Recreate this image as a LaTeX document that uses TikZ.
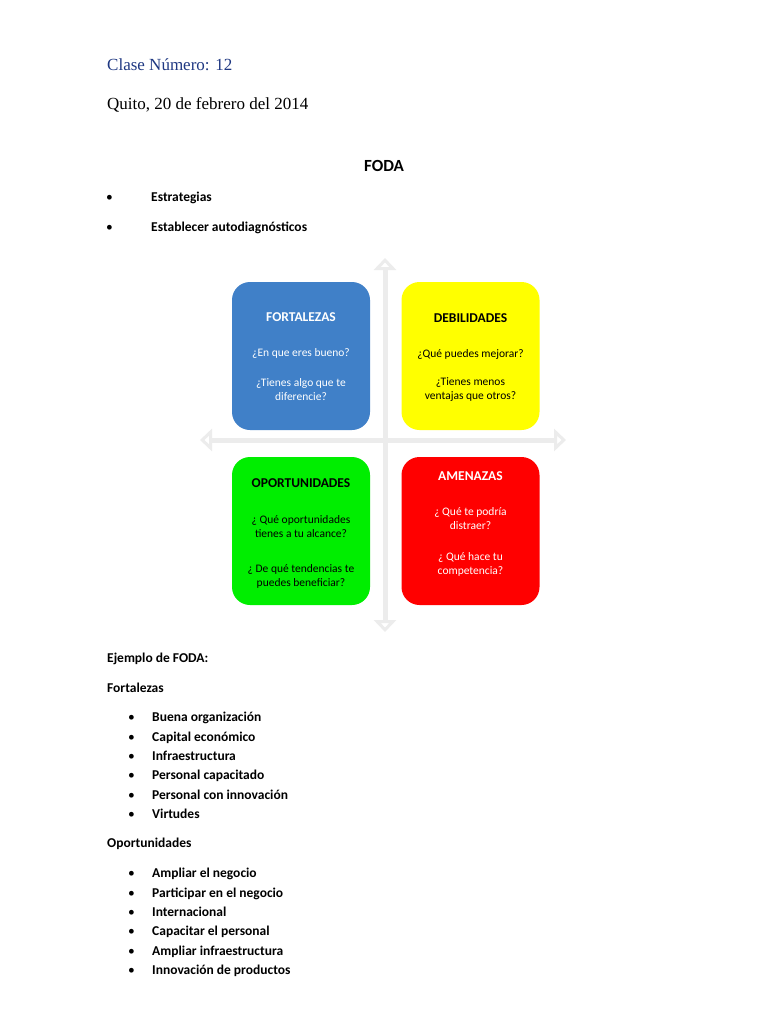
\documentclass[tikz,border=0pt]{standalone}
\usepackage{fontspec}
\setmainfont{Carlito}
\newfontfamily\serif{Liberation Serif}
\usetikzlibrary{arrows.meta}
\definecolor{hdblue}{RGB}{31,56,130}
\definecolor{bxblue}{RGB}{64,128,200}
\definecolor{bxyel}{RGB}{255,255,0}
\definecolor{bxgrn}{RGB}{0,238,0}
\definecolor{bxred}{RGB}{255,0,0}
\definecolor{arrgray}{RGB}{236,236,236}
\begin{document}
\begin{tikzpicture}[x=1pt,y=-1pt,
  body/.style={anchor=base west,inner sep=0pt,font=\fontsize{13.5}{16}\selectfont},
  bodyb/.style={body,font=\fontsize{13.5}{16}\selectfont\bfseries},
  quad/.style={rounded corners=18pt,minimum width=138pt,minimum height=148pt,inner sep=0pt},
  qtxt/.style={align=center,font=\fontsize{11.5}{14}\selectfont,inner sep=0pt},
  qtit/.style={font=\fontsize{13.5}{16}\selectfont\bfseries,inner sep=0pt},
  bigarr/.style={draw=arrgray,line width=5pt,{Triangle[open,length=12pt,width=22pt,line width=4pt]}-{Triangle[open,length=12pt,width=22pt,line width=4pt]}}]
\useasboundingbox[fill=white] (0,0) rectangle (768,1024);
\node[body,font=\serif\fontsize{17}{20}\selectfont,text=hdblue] (clase) at (107,71) {Clase Número: 12};
\node[body,font=\serif\fontsize{17}{20}\selectfont] (quito) at (107,110) {Quito, 20 de febrero del 2014};
\node[anchor=base,inner sep=0pt,font=\fontsize{17}{20}\selectfont\bfseries] (foda) at (384,172) {FODA};
\node[body] (b1) at (106,202) {•};
\node[bodyb] (e1) at (151,202) {Estrategias};
\node[body] (b2) at (106,232) {•};
\node[bodyb] (e2) at (151,232) {Establecer autodiagnósticos};
% arrows
\coordinate (vt) at (385,258); \coordinate (vb) at (385,632);
\coordinate (hl) at (200,440); \coordinate (hr) at (566,440);
\draw[bigarr] (vt) -- (vb);
\draw[bigarr] (hl) -- (hr);
% quadrants
\node[quad,fill=bxblue] (fo) at (301,356) {};
\node[quad,fill=bxyel] (de) at (470.5,356) {};
\node[quad,fill=bxgrn] (op) at (301,531) {};
\node[quad,fill=bxred] (am) at (470.5,531) {};
\node[qtit,text=white] at (301,317) {FORTALEZAS};
\node[qtxt,text=white] at (301,353) {¿En que eres bueno?};
\node[qtxt,text=white] at (301,390) {¿Tienes algo que te\\diferencie?};
\node[qtit] at (470.5,318) {DEBILIDADES};
\node[qtxt] at (470.5,354) {¿Qué puedes mejorar?};
\node[qtxt] at (470.5,390) {¿Tienes menos\\ventajas que otros?};
\node[qtit] at (301,483) {OPORTUNIDADES};
\node[qtxt] at (301,527) {¿ Qué oportunidades\\tienes a tu alcance?};
\node[qtxt] at (301,576) {¿ De qué tendencias te\\puedes beneficiar?};
\node[qtit,text=white] at (470.5,476) {AMENAZAS};
\node[qtxt,text=white] at (470.5,519) {¿ Qué te podría\\distraer?};
\node[qtxt,text=white] at (470.5,564) {¿ Qué hace tu\\competencia?};
% lists
\node[bodyb] (ej) at (107,662) {Ejemplo de FODA:};
\node[bodyb] (ft) at (107,692) {Fortalezas};
\foreach \y/\t [count=\i] in {721/Buena organización,741/Capital económico,760/Infraestructura,779/Personal capacitado,799/Personal con innovación,818/Virtudes}{
  \node[body] (fb\i) at (128,\y) {•};
  \node[bodyb] (fi\i) at (152,\y) {\t};
}
\node[bodyb] (ot) at (107,847) {Oportunidades};
\foreach \y/\t [count=\i] in {877/Ampliar el negocio,897/Participar en el negocio,916/Internacional,935/Capacitar el personal,955/Ampliar infraestructura,974/Innovación de productos}{
  \node[body] (ob\i) at (128,\y) {•};
  \node[bodyb] (oi\i) at (152,\y) {\t};
}
\end{tikzpicture}
\end{document}
